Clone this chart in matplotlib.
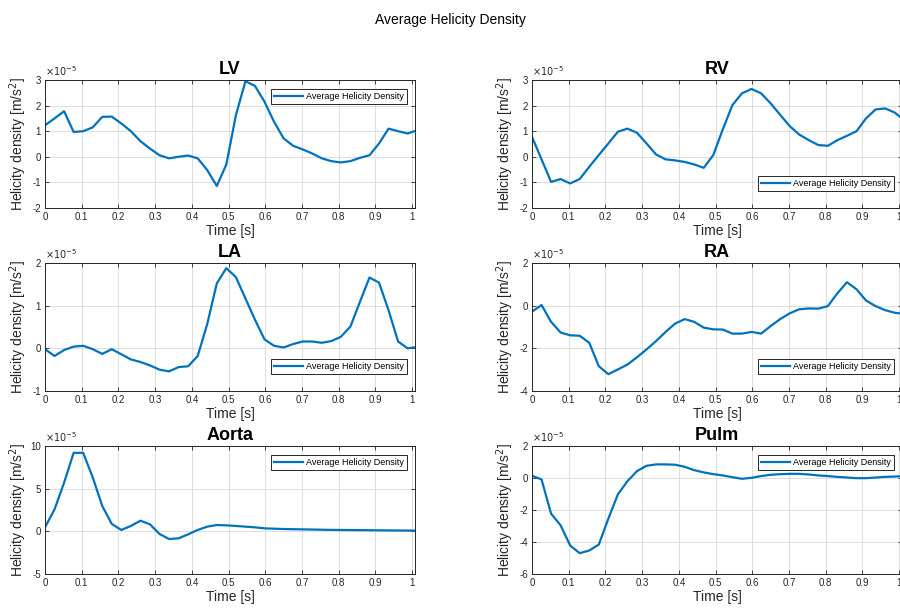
import matplotlib
matplotlib.use('Agg')
import matplotlib.pyplot as plt
from matplotlib.ticker import FuncFormatter

plt.rcParams['font.family'] = ['Liberation Sans', 'DejaVu Sans']
plt.rcParams['axes.unicode_minus'] = False

# sample times [s]
t = [0.0, 0.026, 0.052, 0.078, 0.104, 0.13, 0.156, 0.182, 0.208, 0.234,
     0.26, 0.286, 0.312, 0.338, 0.364, 0.39, 0.416, 0.442, 0.468, 0.494,
     0.52, 0.546, 0.572, 0.598, 0.624, 0.65, 0.676, 0.702, 0.728, 0.754,
     0.78, 0.806, 0.832, 0.858, 0.884, 0.91, 0.936, 0.962, 0.988, 1.014]

# average helicity density, units of 1e-5 m/s^2
lv = [1.23, 1.5, 1.78, 0.97, 1.0, 1.15, 1.56, 1.57, 1.3, 1.0,
      0.61, 0.32, 0.06, -0.06, 0.0, 0.05, -0.06, -0.52, -1.14, -0.3,
      1.62, 2.95, 2.77, 2.15, 1.37, 0.72, 0.43, 0.29, 0.13, -0.06,
      -0.17, -0.22, -0.17, -0.04, 0.06, 0.52, 1.1, 1.0, 0.91, 1.04]
rv = [0.78, -0.1, -0.98, -0.87, -1.04, -0.87, -0.39, 0.07, 0.52, 0.98,
      1.1, 0.94, 0.52, 0.09, -0.1, -0.14, -0.2, -0.3, -0.43, 0.07,
      1.08, 2.02, 2.48, 2.65, 2.48, 2.09, 1.64, 1.2, 0.87, 0.65,
      0.46, 0.43, 0.65, 0.82, 1.0, 1.5, 1.85, 1.89, 1.73, 1.43]
la = [-0.02, -0.18, -0.04, 0.04, 0.06, -0.02, -0.13, -0.02, -0.14, -0.26,
      -0.32, -0.4, -0.5, -0.54, -0.44, -0.42, -0.18, 0.57, 1.52, 1.88,
      1.67, 1.17, 0.67, 0.21, 0.06, 0.02, 0.1, 0.16, 0.16, 0.13,
      0.17, 0.27, 0.51, 1.09, 1.66, 1.54, 0.89, 0.16, 0.0, 0.03]
ra = [-0.28, 0.03, -0.76, -1.26, -1.39, -1.41, -1.74, -2.84, -3.21, -2.99,
      -2.76, -2.42, -2.05, -1.66, -1.23, -0.84, -0.63, -0.76, -1.03, -1.11,
      -1.12, -1.31, -1.31, -1.23, -1.31, -0.96, -0.63, -0.36, -0.17, -0.13,
      -0.14, -0.02, 0.58, 1.1, 0.77, 0.24, -0.02, -0.21, -0.33, -0.39]
aorta = [0.47, 2.58, 5.7, 9.2, 9.2, 6.33, 2.97, 0.86, 0.16, 0.63,
         1.25, 0.82, -0.31, -0.9, -0.82, -0.35, 0.16, 0.55, 0.74, 0.7,
         0.63, 0.55, 0.47, 0.35, 0.31, 0.27, 0.25, 0.23, 0.21, 0.19,
         0.17, 0.16, 0.15, 0.14, 0.13, 0.12, 0.11, 0.1, 0.09, 0.08]
pulm = [0.14, -0.09, -2.23, -2.96, -4.22, -4.7, -4.53, -4.16, -2.54, -1.02,
        -0.2, 0.43, 0.76, 0.85, 0.85, 0.83, 0.7, 0.49, 0.35, 0.24,
        0.16, 0.05, -0.05, 0.01, 0.12, 0.2, 0.24, 0.26, 0.26, 0.22,
        0.16, 0.12, 0.07, 0.03, -0.01, -0.01, 0.03, 0.07, 0.09, 0.12]

panels = [
    # name, data, y ticks, legend loc
    ('LV', lv, [-2, -1, 0, 1, 2, 3], 'upper'),
    ('RV', rv, [-2, -1, 0, 1, 2, 3], 'lower'),
    ('LA', la, [-1, 0, 1, 2], 'lower'),
    ('RA', ra, [-4, -2, 0, 2], 'lower'),
    ('Aorta', aorta, [-5, 0, 5, 10], 'upper'),
    ('Pulm', pulm, [-6, -4, -2, 0, 2], 'upper'),
]

SCALE = 1e-5
W, H = 900, 610
fig = plt.figure(figsize=(9, 6.1), dpi=100)
fig.suptitle('Average Helicity Density', y=1 - 20 / H, fontsize=10, va='center')

lefts = [45, 532]
tops = [80, 263, 446]
aw, ah = 370, 128
xmax = 1.008
tick_col = '#262626'

for i, (name, vals, yt, loc) in enumerate(panels):
    row, col = divmod(i, 2)
    ax = fig.add_axes([lefts[col] / W, 1 - (tops[row] + ah) / H, aw / W, ah / H])
    ax.plot(t, [v * SCALE for v in vals], color='#0072BD', lw=1.6,
            label='Average Helicity Density')
    ax.set_xlim(0, xmax)
    ax.set_ylim(yt[0] * SCALE, yt[-1] * SCALE)
    ax.set_xticks([k / 10 for k in range(11)])
    ax.set_yticks([v * SCALE for v in yt])
    ax.xaxis.set_major_formatter(FuncFormatter(lambda v, p: '%g' % round(v, 3)))
    ax.yaxis.set_major_formatter(FuncFormatter(lambda v, p: '%g' % round(v / SCALE, 3)))
    # exponent shown above the y axis
    ax.text(0, 1.015, r'$\times10^{-5}$', transform=ax.transAxes, fontsize=7,
            color=tick_col, ha='left', va='bottom')
    ax.tick_params(direction='in', length=3, width=0.6, labelsize=7,
                   colors=tick_col, top=True, right=True, pad=3)
    ax.grid(True, color='#d8d8d8', lw=0.6)
    ax.set_axisbelow(True)
    for s in ax.spines.values():
        s.set_color(tick_col)
        s.set_linewidth(0.7)
    ax.set_title(name, fontsize=13, fontweight='bold', pad=4)
    ax.set_xlabel('Time [s]', fontsize=10, labelpad=1, color=tick_col)
    ax.set_ylabel('Helicity density [m/s$^2$]', fontsize=10, color=tick_col)
    ax.yaxis.set_label_coords(-16 / aw, 0.5)
    if loc == 'upper':
        anchor, lc = (1 - 8 / aw, 1 - 9 / ah), 'upper right'
    else:
        anchor, lc = (1 - 8 / aw, 17 / ah), 'lower right'
    leg = ax.legend(loc=lc, bbox_to_anchor=anchor, fontsize=6.5, fancybox=False,
                    framealpha=1, edgecolor=tick_col, handlelength=3.2,
                    borderpad=0.35, handletextpad=0.3, borderaxespad=0)
    leg.get_frame().set_linewidth(0.7)

fig.savefig('out.png', dpi=100)
